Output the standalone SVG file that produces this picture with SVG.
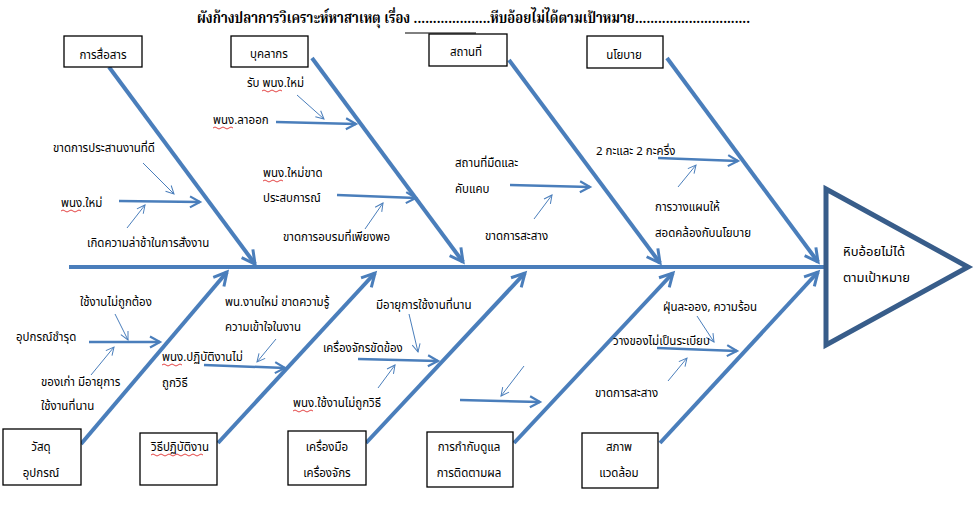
<svg xmlns="http://www.w3.org/2000/svg" width="977" height="505" viewBox="0 0 977 505">
<style>
text{font-family:"Noto Sans Thai","Noto Sans","DejaVu Sans",sans-serif;font-size:11.5px;fill:#000}
.title{font-family:"Noto Serif Thai","Liberation Serif","DejaVu Serif",serif;font-size:15px;font-weight:bold}
.box{fill:#fff;stroke:#000;stroke-width:1.3}
.bone{stroke:#4A7EBB;stroke-width:4;fill:none;marker-end:url(#big)}
.sub{stroke:#4A7EBB;stroke-width:2.5;fill:none;marker-end:url(#mid)}
.thin{stroke:#4A7EBB;stroke-width:1;fill:none;marker-end:url(#sm)}
.wave{stroke:#E03030;stroke-width:0.9;fill:none}
.c{text-anchor:middle}
</style>
<defs>
<marker id="big" markerUnits="userSpaceOnUse" viewBox="-16 -10 18 20" refX="0" refY="0" markerWidth="18" markerHeight="20" orient="auto" overflow="visible">
<path d="M-13,-7 L0,0 L-13,7" fill="none" stroke="#4A7EBB" stroke-width="3"/>
</marker>
<marker id="mid" markerUnits="userSpaceOnUse" viewBox="-12 -8 14 16" refX="0" refY="0" markerWidth="14" markerHeight="16" orient="auto" overflow="visible">
<path d="M-10,-5.5 L0,0 L-10,5.5" fill="none" stroke="#4A7EBB" stroke-width="2.2"/>
</marker>
<marker id="sm" markerUnits="userSpaceOnUse" viewBox="-10 -6 12 12" refX="0" refY="0" markerWidth="12" markerHeight="12" orient="auto" overflow="visible">
<path d="M-8,-4 L0,0 L-8,4" fill="none" stroke="#4A7EBB" stroke-width="1"/>
</marker>
</defs>
<rect width="977" height="505" fill="#fff"/>

<g id="title">
<text class="title" x="197" y="23" textLength="553" lengthAdjust="spacingAndGlyphs">ผังก้างปลาการวิเคราะห์หาสาเหตุ เรื่อง ....................หีบอ้อยไม่ได้ตามเป้าหมาย..............................</text>
<line x1="405" y1="33" x2="476" y2="33" stroke="#000" stroke-width="1"/>
</g>

<g id="connectors">
<line x1="69" y1="267" x2="826" y2="267" stroke="#4A7EBB" stroke-width="4"/>
<line class="bone" x1="109" y1="67" x2="255" y2="264"/>
<line class="bone" x1="312" y1="58" x2="463" y2="262"/>
<line class="bone" x1="509" y1="60" x2="660" y2="263"/>
<line class="bone" x1="667" y1="58" x2="818" y2="262"/>
<line class="bone" x1="81" y1="444" x2="227" y2="272"/>
<line class="bone" x1="218" y1="443" x2="375" y2="273"/>
<line class="bone" x1="366" y1="443" x2="525" y2="273"/>
<line class="bone" x1="514" y1="443" x2="673" y2="273"/>
<line class="bone" x1="660" y1="443" x2="818" y2="272"/>
<line class="sub" x1="119" y1="201" x2="200" y2="202"/>
<line class="thin" x1="143" y1="163" x2="174" y2="194"/>
<line class="thin" x1="127" y1="228" x2="145" y2="205"/>
<line class="sub" x1="276" y1="122" x2="356" y2="124"/>
<line class="thin" x1="297" y1="95" x2="324" y2="119"/>
<line class="sub" x1="337" y1="195" x2="416" y2="198"/>
<line class="thin" x1="365" y1="229" x2="383" y2="203"/>
<line class="sub" x1="510" y1="185" x2="590" y2="187"/>
<line class="thin" x1="534" y1="219" x2="552" y2="195"/>
<line class="sub" x1="658" y1="158" x2="738" y2="161"/>
<line class="thin" x1="678" y1="187" x2="696" y2="165"/>
<line class="sub" x1="89" y1="342" x2="160" y2="342"/>
<line class="thin" x1="115" y1="314" x2="128" y2="340"/>
<line class="thin" x1="91" y1="375" x2="114" y2="347"/>
<line class="sub" x1="204" y1="365" x2="285" y2="368"/>
<line class="thin" x1="276" y1="339" x2="257" y2="362"/>
<line class="sub" x1="358" y1="359" x2="438" y2="361"/>
<line class="thin" x1="409" y1="314" x2="418" y2="352"/>
<line class="thin" x1="378" y1="388" x2="395" y2="365"/>
<line class="sub" x1="460" y1="400" x2="540" y2="402"/>
<line class="thin" x1="524" y1="366" x2="501" y2="396"/>
<line class="sub" x1="657" y1="348" x2="737" y2="351"/>
<line class="thin" x1="697" y1="316" x2="714" y2="342"/>
<line class="thin" x1="668" y1="381" x2="687" y2="358"/>
</g>

<g id="head">
<path d="M826,189 L968,267 L826,345 Z" fill="#fff" stroke="#385D8A" stroke-width="5" stroke-linejoin="miter"/>
<text x="843" y="256" style="font-size:13px">หิบอ้อยไม่ได้</text>
<text x="843" y="282" style="font-size:13px">ตามเป้าหมาย</text>
</g>

<g id="node-communication">
<rect class="box" x="64" y="36" width="78" height="31"/>
<text class="c" x="103" y="59">การสื่อสาร</text>
</g>
<g id="node-personnel">
<rect class="box" x="231" y="36" width="77" height="31"/>
<text class="c" x="269" y="58">บุคลากร</text>
</g>
<g id="node-place">
<rect class="box" x="429" y="34" width="78" height="32"/>
<text class="c" x="466" y="56">สถานที่</text>
</g>
<g id="node-policy">
<rect class="box" x="587" y="36" width="76" height="32"/>
<text class="c" x="624" y="59">นโยบาย</text>
</g>
<g id="node-material">
<rect class="box" x="3" y="429" width="78" height="56"/>
<text class="c" x="41" y="451">วัสดุ</text>
<text class="c" x="41" y="477">อุปกรณ์</text>
</g>
<g id="node-method">
<rect class="box" x="140" y="433" width="77" height="52"/>
<text x="151" y="451">วิธีปฏิบัติงาน</text>
<path class="wave" d="M151,455 q2,-2 4,0 t4,0 t4,0 t4,0 t4,0 t4,0 t4,0 t4,0 t4,0 t4,0 t4,0 t4,0 t4,0"/>
</g>
<g id="node-machine">
<rect class="box" x="288" y="431" width="78" height="54"/>
<text class="c" x="327" y="451">เครื่องมือ</text>
<text class="c" x="327" y="477">เครื่องจักร</text>
</g>
<g id="node-supervision">
<rect class="box" x="427" y="432" width="86" height="55"/>
<text class="c" x="469" y="451">การกำกับดูแล</text>
<text class="c" x="469" y="477">การติดตามผล</text>
</g>
<g id="node-environment">
<rect class="box" x="582" y="433" width="76" height="55"/>
<text class="c" x="619" y="451">สภาพ</text>
<text class="c" x="619" y="477">แวดล้อม</text>
</g>

<g id="labels">
<text x="53" y="152">ขาดการประสานงานที่ดี</text>
<text x="61" y="207">พนง.ใหม่</text>
<path class="wave" d="M61,211 q2,-2 4,0 t4,0 t4,0 t4,0 t4,0"/>
<text x="87" y="247">เกิดความล่าช้าในการสั่งงาน</text>

<text x="247" y="87">รับ พนง.ใหม่</text>
<path class="wave" d="M262,91 q2,-2 4,0 t4,0 t4,0 t4,0 t4,0"/>
<text x="213" y="124">พนง.ลาออก</text>
<path class="wave" d="M213,128 q2,-2 4,0 t4,0 t4,0 t4,0 t4,0"/>
<text x="263" y="177">พนง.ใหม่ขาด</text>
<path class="wave" d="M263,181 q2,-2 4,0 t4,0 t4,0 t4,0 t4,0"/>
<text x="263" y="202">ประสบการณ์</text>
<text x="283" y="241">ขาดการอบรมที่เพียงพอ</text>

<text x="455" y="167">สถานที่มืดและ</text>
<text x="455" y="193">คับแคบ</text>
<text x="485" y="240">ขาดการสะสาง</text>

<text x="596" y="155">2 กะและ 2 กะครึ่ง</text>
<text x="655" y="211">การวางแผนให้</text>
<text x="655" y="237">สอดคล้องกับนโยบาย</text>

<text x="80" y="306">ใช้งานไม่ถูกต้อง</text>
<text x="16" y="341">อุปกรณ์ชำรุด</text>
<text x="41" y="386">ของเก่า มีอายุการ</text>
<text x="41" y="410">ใช้งานที่นาน</text>

<text x="225" y="306">พน.งานใหม่ ขาดความรู้</text>
<text x="225" y="331">ความเข้าใจในงาน</text>
<text x="162" y="361">พนง.ปฏิบัติงานไม่</text>
<path class="wave" d="M162,365 q2,-2 4,0 t4,0 t4,0 t4,0 t4,0"/>
<text x="162" y="387">ถูกวิธี</text>

<text x="376" y="309">มีอายุการใช้งานที่นาน</text>
<text x="323" y="352">เครื่องจักรขัดข้อง</text>
<text x="293" y="407">พนง.ใช้งานไม่ถูกวิธี</text>
<path class="wave" d="M293,411 q2,-2 4,0 t4,0 t4,0 t4,0 t4,0"/>

<text x="663" y="311">ฝุ่นละออง, ความร้อน</text>
<text x="613" y="345">วางของไม่เป็นระเบียบ</text>
<text x="595" y="397">ขาดการสะสาง</text>
</g>
</svg>
